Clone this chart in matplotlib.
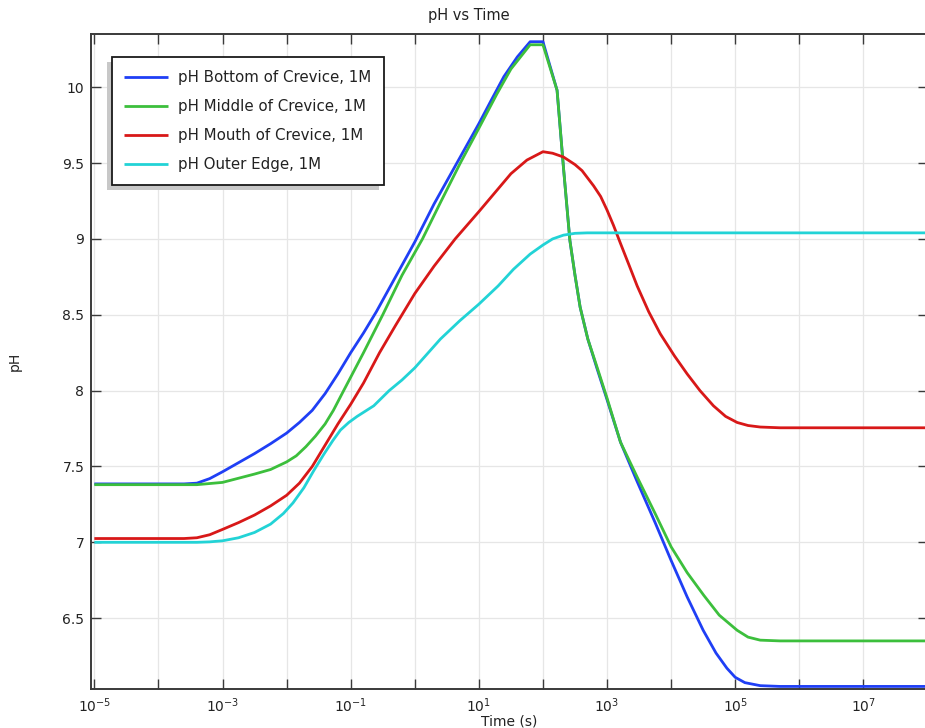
import numpy as np
import matplotlib
matplotlib.use('Agg')
import matplotlib.pyplot as plt
from matplotlib.ticker import FixedLocator, FuncFormatter, NullLocator

# ---- data (time given as log10 of seconds) ----
series_labels = ['pH Bottom of Crevice, 1M', 'pH Middle of Crevice, 1M',
                 'pH Mouth of Crevice, 1M', 'pH Outer Edge, 1M']
series_colors = ['#1f3ff5', '#3cbf3c', '#d81818', '#22d3d6']

log_t_bottom = [-5, -3.6, -3.4, -3.2, -3.0, -2.75, -2.5, -2.25, -2.0, -1.8, -1.6, -1.4,
                -1.2, -1.0, -0.8, -0.6, -0.3, 0.0, 0.3, 0.63, 1.0, 1.2, 1.39, 1.6,
                1.8, 2.0, 2.22, 2.32, 2.42, 2.5, 2.58, 2.7, 2.84, 3.0, 3.21, 3.47,
                3.75, 4.0, 4.25, 4.5, 4.7, 4.87, 5.0, 5.15, 5.39, 5.7, 8]
ph_bottom = [7.385, 7.385, 7.39, 7.42, 7.465, 7.525, 7.585, 7.65, 7.72, 7.79, 7.87, 7.98,
             8.11, 8.25, 8.38, 8.52, 8.75, 8.98, 9.23, 9.48, 9.76, 9.92, 10.07, 10.2,
             10.30, 10.30, 9.98, 9.47, 8.99, 8.76, 8.55, 8.34, 8.15, 7.94, 7.66, 7.40,
             7.13, 6.88, 6.64, 6.42, 6.27, 6.17, 6.11, 6.075, 6.055, 6.05, 6.05]

log_t_middle = [-5, -3.4, -3.0, -2.5, -2.25, -2.0, -1.85, -1.7, -1.55, -1.4, -1.27,
                -1.11, -0.8, -0.5, -0.2, 0.12, 0.4, 0.71, 1.0, 1.28, 1.5, 1.65, 1.8,
                2.0, 2.22, 2.32, 2.42, 2.5, 2.58, 2.7, 2.84, 3.0, 3.21, 3.47, 3.75,
                4.0, 4.25, 4.51, 4.75, 5.03, 5.2, 5.39, 5.7, 8]
ph_middle = [7.38, 7.38, 7.395, 7.45, 7.48, 7.53, 7.57, 7.63, 7.70, 7.78, 7.87,
             8.0, 8.25, 8.5, 8.76, 9.0, 9.24, 9.5, 9.73, 9.955, 10.12, 10.2, 10.28,
             10.28, 9.98, 9.47, 8.99, 8.76, 8.55, 8.34, 8.16, 7.95, 7.66, 7.43, 7.19,
             6.97, 6.80, 6.65, 6.52, 6.42, 6.375, 6.355, 6.35, 6.35]

log_t_mouth = [-5, -3.6, -3.4, -3.2, -3.0, -2.75, -2.5, -2.25, -2.0, -1.8, -1.6, -1.4,
               -1.2, -1.0, -0.8, -0.55, -0.3, 0.0, 0.3, 0.63, 1.0, 1.3, 1.5, 1.75,
               2.0, 2.15, 2.32, 2.5, 2.61, 2.79, 2.9, 3.0, 3.1, 3.21, 3.35, 3.47,
               3.65, 3.83, 4.05, 4.25, 4.45, 4.66, 4.85, 5.03, 5.2, 5.39, 5.7, 8]
ph_mouth = [7.025, 7.025, 7.03, 7.05, 7.085, 7.13, 7.18, 7.24, 7.31, 7.39, 7.50, 7.64,
            7.78, 7.91, 8.05, 8.25, 8.43, 8.64, 8.82, 9.0, 9.18, 9.33, 9.43, 9.52,
            9.575, 9.565, 9.54, 9.49, 9.45, 9.35, 9.28, 9.19, 9.09, 8.97, 8.82, 8.69,
            8.52, 8.375, 8.23, 8.11, 8.0, 7.90, 7.83, 7.79, 7.77, 7.76, 7.755, 7.755]

log_t_outer = [-5, -3.4, -3.2, -3.0, -2.75, -2.5, -2.25, -2.05, -1.9, -1.73, -1.58,
               -1.42, -1.28, -1.16, -1.03, -0.9, -0.64, -0.4, -0.2, 0.0, 0.4, 0.7,
               1.0, 1.3, 1.54, 1.8, 2.0, 2.15, 2.32, 2.5, 2.69, 8]
ph_outer = [7.0, 7.0, 7.003, 7.01, 7.03, 7.065, 7.12, 7.19, 7.26, 7.36, 7.47,
            7.58, 7.67, 7.74, 7.79, 7.83, 7.90, 8.0, 8.07, 8.15, 8.34, 8.46,
            8.57, 8.69, 8.8, 8.9, 8.96, 9.0, 9.025, 9.037, 9.04, 9.04]

x_tick_exponents = list(range(-5, 9))
x_label_exponents = [-5, -3, -1, 1, 3, 5, 7]
y_ticks = [6.5, 7, 7.5, 8, 8.5, 9, 9.5, 10]

title = 'pH vs Time'
x_label = 'Time (s)'
y_label = 'pH'

# ---- figure ----
W, H = 925, 728
fig = plt.figure(figsize=(W / 100, H / 100), dpi=100)
ax_left, ax_right, ax_top, ax_bottom = 90.5, 927.5, 34.3, 689.0
ax = fig.add_axes([ax_left / W, (H - ax_bottom) / H,
                   (ax_right - ax_left) / W, (ax_bottom - ax_top) / H])

series = [(log_t_bottom, ph_bottom), (log_t_middle, ph_middle),
          (log_t_mouth, ph_mouth), (log_t_outer, ph_outer)]
for (lt, ph), lab, col in zip(series, series_labels, series_colors):
    ax.plot(10.0 ** np.asarray(lt), ph, color=col, lw=2.0, label=lab,
            solid_joinstyle='round', solid_capstyle='butt')

ax.set_xscale('log')
ax.set_xlim(10 ** -5.06, 1e8)
ax.set_ylim(6.033, 10.349)

ax.xaxis.set_major_locator(FixedLocator([10.0 ** k for k in x_tick_exponents]))
ax.xaxis.set_minor_locator(NullLocator())


def xfmt(v, pos):
    k = int(round(np.log10(v)))
    return r'$10^{%d}$' % k if k in x_label_exponents else ''


ax.xaxis.set_major_formatter(FuncFormatter(xfmt))
ax.yaxis.set_major_locator(FixedLocator(y_ticks))
ax.yaxis.set_major_formatter(FuncFormatter(lambda v, p: '%g' % v))

ax.grid(True, color='#e6e6e6', lw=0.9)
ax.set_axisbelow(True)
for s in ax.spines.values():
    s.set_color('#3a3a3a')
    s.set_linewidth(1.4)
ax.tick_params(direction='in', length=7, width=1.0, colors='#3a3a3a',
               labelcolor='#222222', top=True, right=True, labelsize=10)
ax.tick_params(axis='x', pad=5)
ax.tick_params(axis='y', pad=4.5)

title_x = (469 - ax_left) / (ax_right - ax_left)
ax.set_title(title, fontsize=10.5, pad=10, color='#222222', x=title_x)
ax.set_xlabel(x_label, fontsize=10, labelpad=0, color='#222222')
ax.set_ylabel(y_label, fontsize=10, labelpad=29, color='#222222')

leg_x = (111.7 - ax_left) / (ax_right - ax_left)
leg_y = 1 - (57.3 - ax_top) / (ax_bottom - ax_top)
leg = ax.legend(loc='upper left', bbox_to_anchor=(leg_x, leg_y), borderaxespad=0,
                fontsize=10.8, frameon=True, fancybox=False, framealpha=1,
                edgecolor='#1a1a1a', borderpad=0.85, labelspacing=0.93,
                handlelength=2.93, handletextpad=0.67,
                shadow={'ox': -3.6, 'oy': -3.6, 'facecolor': '#c8c8c8',
                        'edgecolor': 'none', 'alpha': 1})
leg.get_frame().set_linewidth(1.3)
for t in leg.get_texts():
    t.set_color('#222222')

fig.savefig('out.png', dpi=100, facecolor='white')
